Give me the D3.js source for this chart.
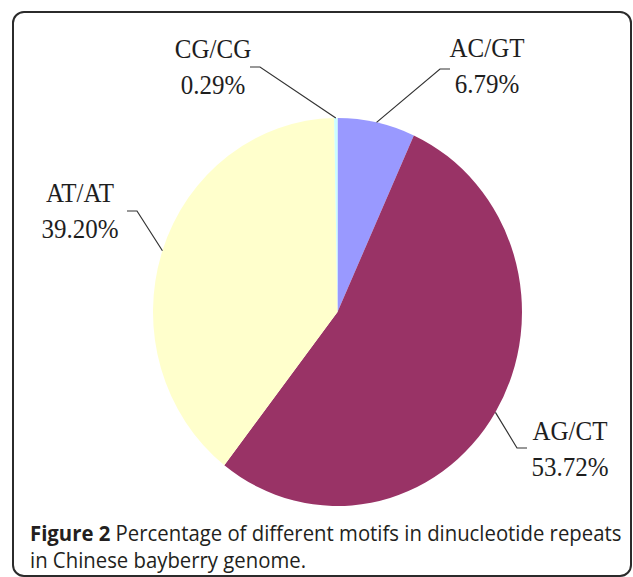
<!DOCTYPE html>
<html>
<head>
<meta charset="utf-8">
<script src="https://cdn.jsdelivr.net/npm/d3@7"></script>
<style>
  body { margin: 0; background: #fff; }
  svg { display: block; }
</style>
</head>
<body>
<svg id="chart" width="633" height="577"></svg>
<script>
// motif categories and their share (%) of dinucleotide repeats
let motifs = ["AC/GT", "AG/CT", "AT/AT", "CG/CG"]
let shares = [6.79, 53.72, 39.20, 0.29]
let shareLabels = ["6.79%", "53.72%", "39.20%", "0.29%"]
let colors = ["#9999ff", "#993366", "#ffffcc", "#ccffff"]

// where each label sits and which way its leader runs (layout only)
let labelSpots = [
    {x: 487, y: 57, tail: {x: 450, y: 69}, dir: -1},
    {x: 570, y: 440, tail: {x: 527, y: 448}, dir: -1},
    {x: 80, y: 202, tail: {x: 127, y: 211}, dir: 1},
    {x: 213, y: 58, tail: {x: 250, y: 67}, dir: 1}
]

let svg = d3.select("#chart")

// figure frame, cropped at the bottom of the page
svg.append("rect")
    .attr("x", 13)
    .attr("y", 12)
    .attr("width", 618)
    .attr("height", 564)
    .attr("rx", 11)
    .attr("fill", "none")
    .attr("stroke", "#2b2b2b")
    .attr("stroke-width", 2)

let cx = 337.5, cy = 312
let rx = 184.5, ry = 194

let pie = d3.pie().sort(null).value((d) => d)
let arcs = pie(shares)

let arc = d3.arc().innerRadius(0).outerRadius(rx)

let pieG = svg.append("g")
    .attr("transform", "translate(" + cx + "," + cy + ") scale(1," + (ry / rx) + ")")

pieG.selectAll("path")
    .data(arcs)
    .enter().append("path")
    .attr("d", arc)
    .attr("fill", (d, i) => colors[i])

// leader lines: from the slice edge at its mid angle to the label
let lines = svg.append("g")
arcs.forEach(function (a, i){
    let mid = (a.startAngle + a.endAngle) / 2
    let edge = {x: cx + rx * Math.sin(mid), y: cy - ry * Math.cos(mid)}
    let spot = labelSpots[i]
    let elbow = {x: spot.tail.x + spot.dir * 10, y: spot.tail.y}
    lines.append("path")
        .attr("d", d3.line()([[spot.tail.x, spot.tail.y], [elbow.x, elbow.y], [edge.x, edge.y]]))
        .attr("fill", "none")
        .attr("stroke", "#333")
        .attr("stroke-width", 1.2)
})

let labels = svg.append("g")
    .attr("font-family", "'Liberation Serif', 'Times New Roman', serif")
    .attr("font-size", 25)
    .attr("fill", "#1e1e1e")
    .attr("text-anchor", "middle")

// the scanned figure is a little taller than wide, so stretch the text too
let stretch = 1.1
motifs.forEach(function (m, i){
    let spot = labelSpots[i]
    labels.append("text")
        .attr("transform", "translate(" + spot.x + "," + spot.y + ") scale(1," + stretch + ")")
        .text(m)
    labels.append("text")
        .attr("transform", "translate(" + spot.x + "," + (spot.y + 36) + ") scale(1," + stretch + ")")
        .text(shareLabels[i])
})

// caption, narrowed to the width of the original caption
let cap = svg.append("g")
    .attr("font-family", "'Open Sans', 'Noto Sans', sans-serif")
    .attr("font-size", 21.5)
    .attr("fill", "#231f20")

let line1 = cap.append("text")
    .attr("y", 541)
line1.append("tspan").attr("font-weight", "bold").text("Figure 2")
line1.append("tspan").text(" Percentage of different motifs in dinucleotide repeats")

let squeeze = 592 / line1.node().getComputedTextLength()
line1.attr("transform", "translate(30,0) scale(" + squeeze + ",1)")

cap.append("text")
    .attr("y", 568)
    .attr("transform", "translate(30,0) scale(" + squeeze + ",1)")
    .text("in Chinese bayberry genome.")
</script>
</body>
</html>
